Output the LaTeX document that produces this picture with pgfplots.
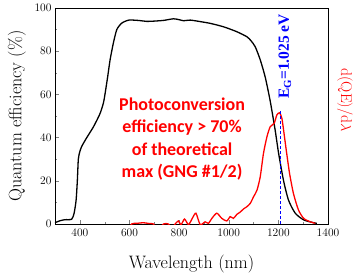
\documentclass[border=0pt]{standalone}
\usepackage{fontspec}
\usepackage{pgfplots}
\pgfplotsset{compat=1.18}
\newfontfamily\carlito{Carlito}
\newfontfamily\libserif{Liberation Serif}

\pgfplotstableread{
lam qe
300 0.6
320 1.5
340 2.0
367 2.2
377 5
385 11
390 20
394 30
400 33.5
408 36
428 40
455 45
481 51
495 56
502 60.5
512 68
522 76
535 83.7
549 90
569 93
598 94.4
640 94.2
670 93.8
710 94
740 94.3
777 95
800 94.6
818 94.1
845 94.4
885 93.7
925 92.9
979 91.3
1033 89
1073 86.7
1090 84.8
1107 82
1127 76
1147 68
1167 57
1187 43.5
1201 32.7
1221 20
1241 11
1268 5
1302 1.9
1342 0.6
1355 0.3
}\qedata

\pgfplotstableread{
lam d
590 -4
609 0
630 0.3
656 0.6
680 0.2
697 0
712 -3
737 0
757 0
770 -2
784 0
797 1.4
808 -0.3
822 2.3
838 -0.3
855 3
868 5
885 -0.3
905 1
918 0.3
932 2.6
952 5
972 2.6
992 1.4
1006 3.4
1019 2.6
1033 4.5
1046 5.5
1060 7
1073 8
1087 9.6
1100 12.6
1114 15.7
1127 21.9
1140 32.7
1154 40.4
1167 45
1183 46.6
1194 50.5
1205 51.5
1214 49
1221 43.5
1232 34
1245 23.5
1261 14
1281 6.5
1302 2.6
1329 1
1349 0.3
}\dqedata

\begin{document}
\begin{tikzpicture}
\begin{axis}[
  name=ax,
  scale only axis, width=273pt, height=216pt,
  xmin=300, xmax=1400, ymin=0, ymax=100,
  xtick={400,600,...,1400}, ytick={0,20,...,100},
  minor x tick num=1, minor y tick num=1,
  tick align=inside, xtick pos=bottom, ytick pos=left,
  major tick length=4pt, minor tick length=2.5pt,
  /pgf/number format/1000 sep={},
  /pgf/number format/assume math mode=true,
  tick label style={font=\fontsize{11.5}{13}\selectfont},
  xticklabel style={yshift=-1.5pt},
  xlabel={Wavelength (nm)}, ylabel={Quantum efficiency (\%)},
  label style={font=\fontsize{18}{20}\selectfont},
  xlabel style={at={(axis description cs:0.5,0)}, yshift=-40pt, anchor=center},
  ylabel style={at={(axis description cs:0,0.5)}, yshift=38pt, anchor=center},
  axis line style={line width=0.8pt},
  clip mode=individual,
]
\addplot[black, line width=1.3pt, smooth, tension=0.4] table[x=lam, y=qe] {\qedata};
\addplot[red, line width=1.3pt, smooth, tension=0.4] table[x=lam, y=d] {\dqedata};
\addplot[blue, line width=0.9pt, dash pattern=on 3pt off 2pt] coordinates {(1210,0) (1210,52.8)};
\node[rotate=90, anchor=west, inner sep=0pt, text=blue, font=\libserif\bfseries\fontsize{15.5}{17}\selectfont] at (axis cs:1226,57.8) {E\textsubscript{G}=1.025 eV};
\node[rotate=-90, text=red, font=\fontsize{15.5}{18}\selectfont] at (axis description cs:1.062,0.574) {d(QE)/d$\lambda$};
\node[align=center, text=red, font=\carlito\bfseries\fontsize{18}{22.5}\selectfont] at (axis cs:812,39.4) {Photoconversion\\efficiency > 70\%\\of theoretical\\max (GNG \#1/2)};
\end{axis}
\pgfresetboundingbox
\path[use as bounding box] ([xshift=-55pt,yshift=-51pt]ax.south west) rectangle ([xshift=35pt,yshift=8pt]ax.north east);
\end{tikzpicture}
\end{document}
